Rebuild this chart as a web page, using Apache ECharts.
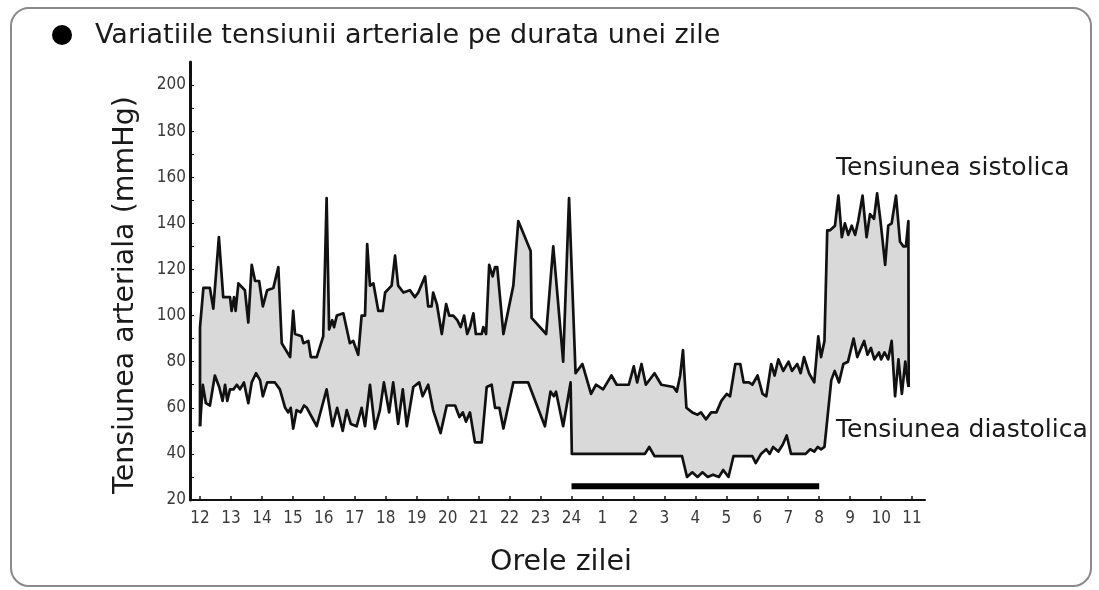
<!DOCTYPE html>
<html>
<head>
<meta charset="utf-8">
<script src="https://cdn.jsdelivr.net/npm/echarts@6/dist/echarts.min.js"></script>
<style>
html,body{margin:0;padding:0;background:#ffffff;}
#chart{width:1099px;height:590px;}
</style>
</head>
<body>
<div id="chart"></div>
<script>
// Hour labels along the x axis (position index = hours since noon)
const hourLabels = ['12','13','14','15','16','17','18','19','20','21','22','23','24','1','2','3','4','5','6','7','8','9','10','11'];
// Y axis tick labels (mmHg)
const yTickValues = [20,40,60,80,100,120,140,160,180,200];

// Systolic pressure: time (hours since 12:00) and value (mmHg)
const sysTime = [0.00,0.00,0.11,0.32,0.43,0.61,0.75,0.97,1.02,1.10,
1.15,1.24,1.45,1.56,1.67,1.78,1.91,2.03,2.17,2.37,
2.53,2.64,2.91,3.01,3.07,3.28,3.34,3.50,3.58,3.77,
3.98,4.09,4.17,4.27,4.33,4.42,4.63,4.84,4.95,5.11,
5.22,5.33,5.40,5.49,5.60,5.76,5.90,5.98,6.19,6.30,
6.40,6.57,6.78,6.94,7.05,7.27,7.37,7.48,7.53,7.65,
7.70,7.81,7.95,8.05,8.18,8.31,8.42,8.53,8.63,8.72,
8.83,8.91,9.10,9.15,9.24,9.34,9.45,9.53,9.60,9.80,
10.12,10.28,10.68,10.71,11.18,11.41,11.73,11.92,12.13,12.35,
12.46,12.63,12.79,13.02,13.29,13.46,13.85,14.01,14.12,14.26,
14.40,14.68,14.90,15.29,15.40,15.51,15.60,15.71,15.90,16.07,
16.18,16.34,16.51,16.68,16.84,17.01,17.12,17.29,17.45,17.56,
17.73,17.84,18.01,18.17,18.29,18.45,18.56,18.68,18.84,19.01,
19.12,19.29,19.40,19.51,19.67,19.84,19.97,20.06,20.17,20.26,
20.35,20.51,20.62,20.73,20.83,20.94,21.05,21.16,21.26,21.40,
21.53,21.64,21.77,21.87,21.98,22.13,22.23,22.34,22.48,22.61,
22.72,22.80,22.88,22.89];
const sysValue = [52,95,112,112,103,134,108,108,102,108,
102,114,111,97,122,115,115,104,111,112,
121,88,82,102,92,91,88,89,82,82,
91,151,94,98,95,100,101,88,89,83,
100,100,131,113,114,102,102,110,113,126,
113,110,111,108,110,117,104,104,110,105,
105,92,105,100,100,98,95,100,92,95,
101,92,92,95,92,122,117,121,121,92,
113,141,128,99,92,130,80,151,75,79,
74,66,70,68,74,70,70,78,71,79,
70,75,70,69,67,74,85,60,58,57,
58,55,58,58,63,66,65,79,79,71,
71,70,74,66,65,79,74,81,76,80,
76,79,75,82,75,71,91,82,89,137,
137,139,152,134,140,135,139,135,141,152,
134,144,142,153,141,122,139,140,152,132,
130,130,141,69];

// Diastolic pressure: time (hours since 12:00) and value (mmHg)
const diaTime = [0.00,0.09,0.19,0.32,0.48,0.62,0.73,0.81,0.88,0.97,
1.08,1.19,1.29,1.42,1.56,1.67,1.81,1.94,2.03,2.17,
2.42,2.58,2.75,2.85,2.93,3.01,3.12,3.25,3.36,3.45,
3.61,3.77,4.09,4.28,4.43,4.61,4.74,4.87,5.06,5.22,
5.33,5.49,5.65,5.81,5.94,6.11,6.24,6.40,6.55,6.68,
6.89,7.08,7.19,7.37,7.53,7.77,7.97,8.24,8.38,8.49,
8.59,8.72,8.88,9.10,9.26,9.42,9.53,9.67,9.80,10.12,
10.60,11.14,11.32,11.43,11.50,11.73,11.97,12.01,14.37,14.51,
14.68,15.57,15.73,15.90,16.07,16.23,16.40,16.57,16.76,16.90,
17.07,17.23,17.84,17.95,18.12,18.29,18.40,18.51,18.68,18.82,
18.95,19.09,19.40,19.56,19.71,19.84,19.95,20.06,20.17,20.39,
20.50,20.64,20.78,20.93,21.11,21.23,21.45,21.56,21.67,21.78,
21.93,22.00,22.11,22.23,22.34,22.45,22.56,22.67,22.78,22.86,
22.89];
const diaValue = [52,70,62,61,74,69,63,70,63,68,
68,70,68,71,62,71,75,72,65,71,
71,68,60,58,60,51,59,58,61,60,
56,52,68,52,60,50,59,53,52,60,
52,70,51,59,71,58,71,53,68,52,
69,71,65,70,59,49,61,61,56,58,
54,58,45,45,69,70,60,60,51,71,
71,52,67,65,67,52,71,40,40,43,
39,39,30,32,30,32,30,31,30,33,
30,39,39,36,40,42,40,43,41,44,
48,40,40,40,42,41,43,42,43,72,
76,71,79,80,90,82,89,83,86,81,
84,81,84,81,89,65,81,66,80,71,
69];

// Sleep period bar (from 24:00 to 08:00) and its level
const sleepTime = [12, 20];
const sleepLevel = [26, 26];

const titleText = 'Variatiile tensiunii arteriale pe durata unei zile';
const yAxisTitle = 'Tensiunea arteriala (mmHg)';
const xAxisTitle = 'Orele zilei';
const sysLabel = 'Tensiunea sistolica';
const diaLabel = 'Tensiunea diastolica';

const hourTicks = hourLabels.map((_, i) => i);
const yMinorTicks = [];
for (let i = 0; i < yTickValues.length; i++) {
  yMinorTicks.push(yTickValues[i]);
  if (i < yTickValues.length - 1) yMinorTicks.push((yTickValues[i] + yTickValues[i + 1]) / 2);
}

const sysData = sysTime.map((t, i) => [t, sysValue[i]]);
const diaData = diaTime.map((t, i) => [t, diaValue[i]]);
const sleepData = sleepTime.map((t, i) => [t, sleepLevel[i]]);

const chart = echarts.init(document.getElementById('chart'), null, {renderer: 'canvas'});
const option = {
  animation: false,
  backgroundColor: '#ffffff',
  grid: {left: 190, right: 174, top: 62, bottom: 90, containLabel: false},
  xAxis: {
    type: 'value', min: -0.323, max: 23.417, z: 10,
    axisLine: {show: true, onZero: false, lineStyle: {color: '#111', width: 2}},
    axisTick: {show: true, inside: true, length: 4, customValues: hourTicks, lineStyle: {color: '#111', width: 1.5}},
    axisLabel: {customValues: hourTicks, formatter: v => hourLabels[Math.round(v)], fontFamily: 'DejaVu Sans Condensed', fontSize: 17, color: '#3a3a3a', margin: 10},
    splitLine: {show: false}
  },
  yAxis: {
    type: 'value', min: 20, max: 210, z: 10,
    axisLine: {show: true, onZero: false, lineStyle: {color: '#111', width: 3}},
    axisTick: {show: true, inside: true, length: 4, customValues: yMinorTicks, lineStyle: {color: '#111', width: 1}},
    axisLabel: {customValues: yTickValues, fontFamily: 'DejaVu Sans Condensed', fontSize: 17, color: '#3a3a3a', margin: 4},
    splitLine: {show: false}
  },
  series: [
    {
      type: 'custom', silent: true, z: 1, data: [[0, 20]],
      renderItem: function (params, api) {
        const pts = [];
        for (let i = 0; i < sysTime.length; i++) pts.push(api.coord([sysTime[i], sysValue[i]]));
        for (let i = diaTime.length - 1; i >= 0; i--) pts.push(api.coord([diaTime[i], diaValue[i]]));
        return {type: 'polygon', shape: {points: pts}, style: {fill: '#d9d9d9', stroke: null}};
      }
    },
    {name: sysLabel, type: 'line', data: sysData, symbol: 'none', z: 3, lineStyle: {color: '#111', width: 2.7, join: 'round'}},
    {name: diaLabel, type: 'line', data: diaData, symbol: 'none', z: 3, lineStyle: {color: '#111', width: 2.7, join: 'round'}},
    {name: 'Somn', type: 'line', data: sleepData, symbol: 'none', z: 4, lineStyle: {color: '#000', width: 6, cap: 'butt'}}
  ],
  graphic: [
    {type: 'rect', shape: {x: 11, y: 8, width: 1080, height: 578, r: 18}, style: {fill: 'none', stroke: '#8a8a8a', lineWidth: 2}, z: -1, silent: true},
    {type: 'circle', shape: {cx: 62, cy: 35, r: 10}, style: {fill: '#000'}},
    {type: 'text', x: 95, y: 36, style: {text: titleText, font: '27px "DejaVu Sans"', fill: '#1a1a1a', textAlign: 'left', textVerticalAlign: 'middle'}},
    {type: 'text', x: 126, y: 295, rotation: Math.PI / 2, style: {text: yAxisTitle, font: '28.5px "DejaVu Sans"', fill: '#1a1a1a', textAlign: 'center', textVerticalAlign: 'middle'}},
    {type: 'text', x: 561, y: 563, style: {text: xAxisTitle, font: '28.5px "DejaVu Sans"', fill: '#1a1a1a', textAlign: 'center', textVerticalAlign: 'middle'}},
    {type: 'text', x: 836, y: 168, style: {text: sysLabel, font: '25px "DejaVu Sans"', fill: '#1a1a1a', textAlign: 'left', textVerticalAlign: 'middle'}},
    {type: 'text', x: 836, y: 430, style: {text: diaLabel, font: '25px "DejaVu Sans"', fill: '#1a1a1a', textAlign: 'left', textVerticalAlign: 'middle'}}
  ]
};
chart.setOption(option);
</script>
</body>
</html>
